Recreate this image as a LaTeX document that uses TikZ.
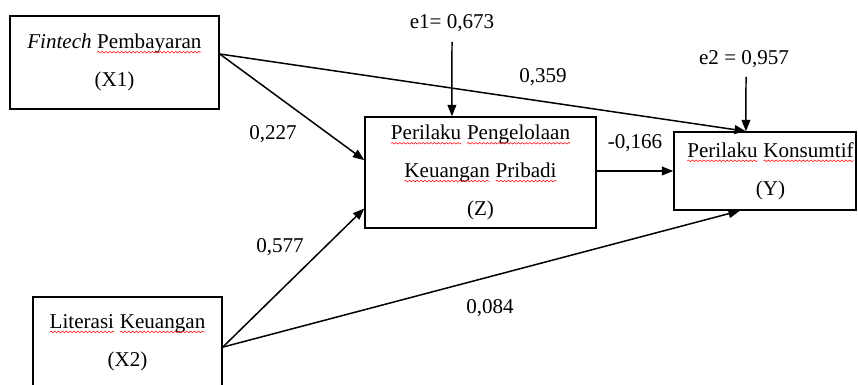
\documentclass[tikz,border=0pt]{standalone}
\usepackage{fontspec}
\setmainfont{Liberation Serif}
\usetikzlibrary{calc,arrows.meta,decorations.pathmorphing}
\newcommand\sq[1]{\tikz[baseline=(sqw.base),x=1pt,y=1pt]{\node[inner sep=0pt,outer sep=0pt,minimum width=0pt,minimum height=0pt,draw=none,anchor=base] (sqw) at (0pt,0pt) {#1};
  \draw[red, line width=0.3pt, decorate, decoration={snake,amplitude=0.45pt,segment length=2.2pt}]
   ([yshift=-2pt]sqw.base west) -- ([yshift=-2pt]sqw.base east);}}
\newcommand\shiftline[1]{\makebox[0pt][c]{\hspace*{0.22cm}#1}}
\tikzset{
  box/.style={draw, line width=0.85pt, align=center, inner sep=0pt,
              font=\fontsize{12}{21.5}\selectfont},
  lbl/.style={inner sep=0pt, font=\fontsize{12}{14}\selectfont},
  arr/.style={line width=0.85pt, -{Triangle[length=6.5pt,width=5pt]}},
}
\begin{document}
\begin{tikzpicture}[x=0.02cm, y=-0.02cm]
\clip (0,0) rectangle (858,385);
\fill[white] (0,0) rectangle (858,385);
% boxes
\node[box, minimum width=4.18cm, minimum height=1.86cm] (X1) at (114.5,62.5)
  {\textit{Fintech} \sq{Pembayaran}\\(X1)};
\node[box, minimum width=4.62cm, minimum height=2.22cm] (Z) at (480.5,172.5)
  {\sq{Perilaku} \sq{Pengelolaan}\\\sq{Keuangan} \sq{Pribadi}\\(Z)};
\node[box, minimum width=3.64cm, minimum height=1.56cm] (Y) at (765,171)
  {\shiftline{\sq{Perilaku} \sq{Konsumtif}}\\\shiftline{(Y)}};
\node[box, minimum width=3.78cm, minimum height=1.82cm] (X2) at (127.5,342.5)
  {\sq{Literasi} \sq{Keuangan}\\(X2)};
% anchor points
\coordinate (x1o) at ($(X1.north east)!0.41!(X1.south east)$);
\coordinate (x2o) at ($(X2.north east)!0.55!(X2.south east)$);
\coordinate (zin1) at ($(Z.north west)!0.39!(Z.south west)$);
\coordinate (zin2) at ($(Z.north west)!0.82!(Z.south west)$);
\coordinate (ztop) at ($(Z.north west)!0.377!(Z.north east)$);
\coordinate (ytop) at ($(Y.north west)!0.396!(Y.north east)$);
\coordinate (ybot) at ($(Y.south west)!0.363!(Y.south east)$);
\coordinate (e1s) at (452,42);
\coordinate (e2s) at (746,77);
% error labels
\node[lbl] (e1) at (452,23) {e1= 0,673};
\node[lbl] (e2) at (744,59) {e2 = 0,957};
% connectors
\draw[arr] (x1o) -- (zin1);
\draw[arr] (x1o) -- (ytop);
\draw[arr] (x2o) -- (zin2);
\draw[arr] (x2o) -- (ybot);
\draw[arr] (Z.east |- Y.west) -- (Y.west);
\draw[arr] (e1s) -- (ztop);
\draw[arr] (e2s) -- (ytop);
% path coefficients
\node[lbl] (c359) at (543,77) {0,359};
\node[lbl] (c227) at (273,134) {0,227};
\node[lbl] (c577) at (280,247) {0,577};
\node[lbl] (c084) at (490,308) {0,084};
\node[lbl] (c166) at (635,143) {-0,166};
\end{tikzpicture}
\end{document}
